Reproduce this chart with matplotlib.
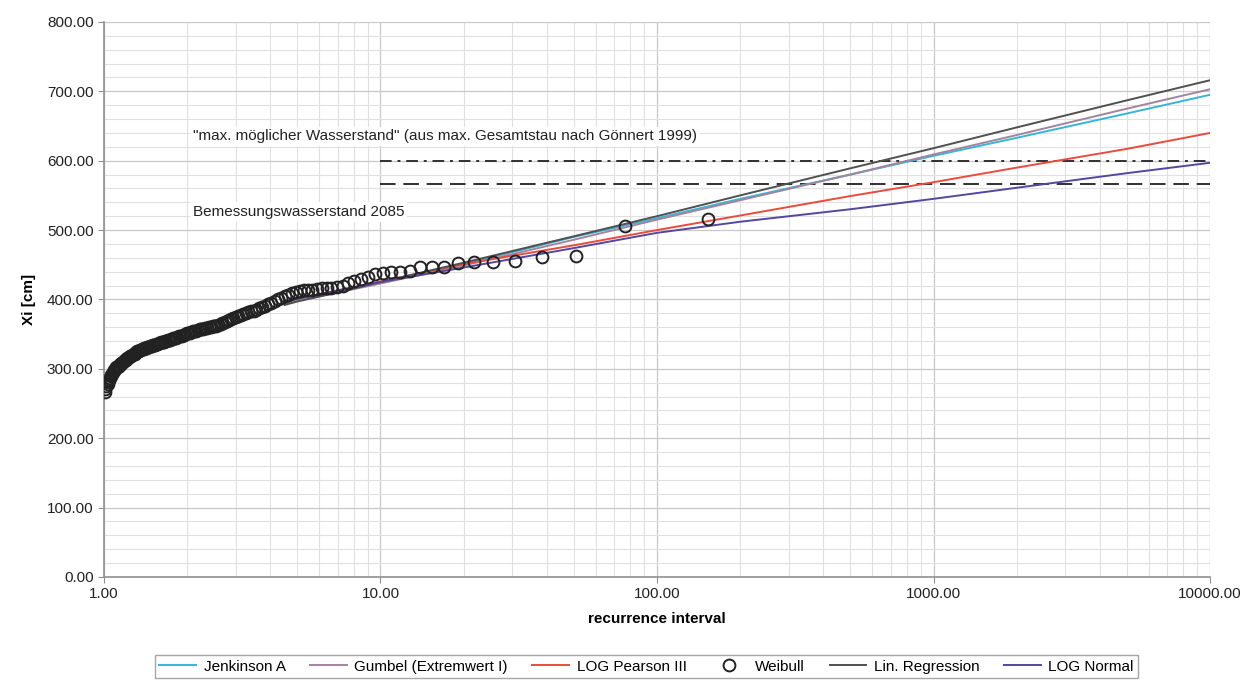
import matplotlib
matplotlib.use("Agg")
import matplotlib.pyplot as plt
from matplotlib.ticker import FuncFormatter, MultipleLocator, LogLocator

plt.rcParams['font.family'] = ['Liberation Sans', 'DejaVu Sans']

# Weibull plotting positions (recurrence interval) and ranked water levels
weibull_T = [153.00, 76.50, 51.00, 38.25, 30.60, 25.50, 21.86, 19.13, 17.00, 15.30,
             13.91, 12.75, 11.77, 10.93, 10.20, 9.56, 9.00, 8.50, 8.05, 7.65,
             7.29, 6.95, 6.65, 6.38, 6.12, 5.88, 5.67, 5.46, 5.28, 5.10,
             4.94, 4.78, 4.64, 4.50, 4.37, 4.25, 4.14, 4.03, 3.92, 3.83,
             3.73, 3.64, 3.56, 3.48, 3.40, 3.33, 3.26, 3.19, 3.12, 3.06,
             3.00, 2.94, 2.89, 2.83, 2.78, 2.73, 2.68, 2.64, 2.59, 2.55,
             2.51, 2.47, 2.43, 2.39, 2.35, 2.32, 2.28, 2.25, 2.22, 2.19,
             2.15, 2.13, 2.10, 2.07, 2.04, 2.01, 1.99, 1.96, 1.94, 1.91,
             1.89, 1.87, 1.84, 1.82, 1.80, 1.78, 1.76, 1.74, 1.72, 1.70,
             1.68, 1.66, 1.65, 1.63, 1.61, 1.59, 1.58, 1.56, 1.55, 1.53,
             1.51, 1.50, 1.49, 1.47, 1.46, 1.44, 1.43, 1.42, 1.40, 1.39,
             1.38, 1.37, 1.35, 1.34, 1.33, 1.32, 1.31, 1.30, 1.29, 1.28,
             1.26, 1.25, 1.24, 1.23, 1.22, 1.21, 1.20, 1.20, 1.19, 1.18,
             1.17, 1.16, 1.15, 1.14, 1.13, 1.13, 1.12, 1.11, 1.10, 1.09,
             1.09, 1.08, 1.07, 1.06, 1.06, 1.05, 1.04, 1.03, 1.03, 1.02,
             1.01, 1.01]
weibull_X = [516, 506, 463, 461, 456, 454, 454, 452, 447, 447,
             447, 441, 440, 439, 438, 436, 432, 429, 426, 423,
             420, 418, 417, 416, 416, 415, 414, 414, 413, 412,
             411, 409, 407, 405, 402, 400, 398, 395, 393, 391,
             389, 387, 385, 384, 383, 382, 380, 379, 377, 376,
             375, 373, 372, 370, 369, 367, 366, 365, 363, 362,
             361, 361, 360, 360, 359, 359, 358, 358, 357, 356,
             355, 355, 354, 353, 352, 351, 351, 350, 349, 348,
             347, 347, 346, 345, 344, 344, 343, 342, 342, 341,
             340, 340, 339, 339, 338, 337, 337, 336, 336, 335,
             334, 334, 333, 333, 332, 331, 331, 330, 330, 329,
             328, 328, 327, 326, 326, 325, 324, 323, 322, 321,
             320, 319, 318, 317, 316, 315, 314, 313, 312, 311,
             310, 309, 308, 306, 305, 304, 303, 302, 300, 299,
             297, 295, 293, 291, 289, 287, 284, 281, 278, 275,
             271, 266]

# fitted distributions
fit_T = [4.5, 5, 7, 10, 20, 50, 100, 200, 500, 1000, 2000, 5000, 10000]
jenkinson = [396, 400, 412, 425, 451, 490, 517, 545, 580, 607, 633, 668, 695]
gumbel = [394, 398, 410, 423, 449, 486, 515, 543, 580, 609, 637, 675, 703]
pearson3 = [397, 401, 413, 426, 451, 478, 500, 521, 549, 569, 590, 617, 640]
lin_reg = [392, 397, 410, 425, 453, 491, 520, 550, 589, 618, 648, 687, 716]
log_normal = [397, 401, 413, 425, 446, 474, 496, 512, 530, 545, 561, 582, 597]

ref_T = [10, 10000]
max_level = [600, 600]
design_level = [566, 566]

fig = plt.figure(figsize=(12.48, 6.86), dpi=100)
ax = fig.add_axes([0.0833, 0.159, 0.8863, 0.809])

ax.plot(fit_T, jenkinson, color='#35B6D6', lw=1.4, label='Jenkinson A', zorder=3)
ax.plot(fit_T, gumbel, color='#A3849F', lw=1.4, label='Gumbel (Extremwert I)', zorder=3)
ax.plot(fit_T, pearson3, color='#EA4B3C', lw=1.4, label='LOG Pearson III', zorder=3)
ax.plot(weibull_T, weibull_X, 'o', mfc='none', mec='#222222', mew=1.4, ms=8.5,
        label='Weibull', zorder=4)
ax.plot(fit_T, lin_reg, color='#505050', lw=1.4, label='Lin. Regression', zorder=3)
ax.plot(fit_T, log_normal, color='#5447A0', lw=1.4, label='LOG Normal', zorder=3)

ax.plot(ref_T, max_level, color='#303030', lw=1.4, linestyle=(0, (6, 3, 1.5, 3)), zorder=2)
ax.plot(ref_T, design_level, color='#303030', lw=1.4, linestyle=(0, (8, 4)), zorder=2)

ax.text(2.1, 635, '"max. möglicher Wasserstand" (aus max. Gesamtstau nach Gönnert 1999)',
        fontsize=11, color='#222222', va='center', ha='left',
        bbox=dict(facecolor='white', edgecolor='none', pad=2))
ax.text(2.1, 526, 'Bemessungswasserstand 2085',
        fontsize=11, color='#222222', va='center', ha='left',
        bbox=dict(facecolor='white', edgecolor='none', pad=2))

ax.set_xscale('log')
ax.set_xlim(1, 10000)
ax.set_ylim(0, 800)
ax.yaxis.set_major_locator(MultipleLocator(100))
ax.yaxis.set_minor_locator(MultipleLocator(20))
ax.xaxis.set_major_locator(LogLocator(base=10))
ax.xaxis.set_minor_locator(LogLocator(base=10, subs=range(2, 10)))
fmt = FuncFormatter(lambda v, p: '%.2f' % v)
ax.xaxis.set_major_formatter(fmt)
ax.yaxis.set_major_formatter(fmt)
ax.xaxis.set_minor_formatter(FuncFormatter(lambda v, p: ''))

ax.grid(which='major', color='#C8C8C8', lw=0.9)
ax.grid(which='minor', color='#E0E0E0', lw=0.8)
ax.set_axisbelow(True)
for s in ['top', 'right']:
    ax.spines[s].set_visible(False)
for s in ['left', 'bottom']:
    ax.spines[s].set_color('#909090')
    ax.spines[s].set_linewidth(1.2)
ax.tick_params(which='major', labelsize=11, colors='#909090', labelcolor='#222222', length=4)
ax.tick_params(which='minor', length=0)

ax.set_xlabel('recurrence interval', fontsize=11, fontweight='bold', labelpad=8)
ax.set_ylabel('Xi [cm]', fontsize=11, fontweight='bold', labelpad=8)

leg = fig.legend(loc='center', bbox_to_anchor=(0.518, 0.028), ncol=6, fontsize=11,
                 frameon=True, fancybox=False, edgecolor='#909090',
                 handlelength=2.4, columnspacing=1.6, handletextpad=0.5,
                 borderpad=0.3)
leg.get_frame().set_linewidth(1.0)

fig.savefig('out.png', dpi=100)
